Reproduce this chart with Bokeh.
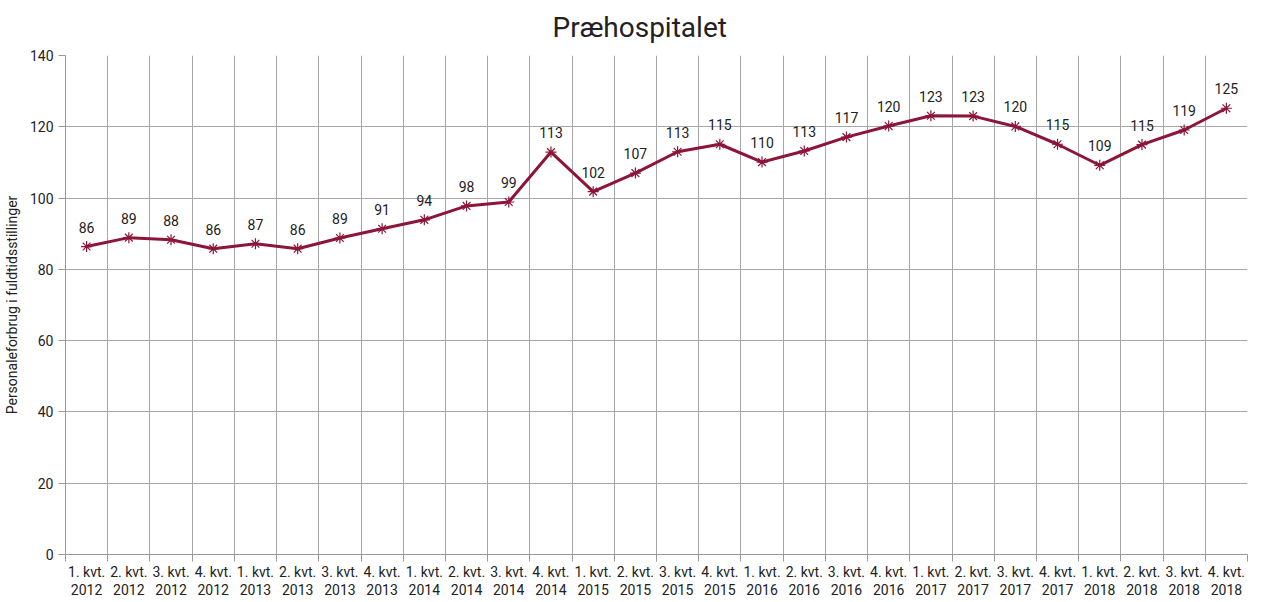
from bokeh.plotting import figure
from bokeh.models import Range1d, FixedTicker, ColumnDataSource, Title
from bokeh.core.properties import value
from bokeh.embed import file_html
from bokeh.resources import INLINE

title = "Præhospitalet"
quarters = ["1. kvt.", "2. kvt.", "3. kvt.", "4. kvt."]
years = ["2012", "2013", "2014", "2015", "2016", "2017", "2018"]
categories = [f"{q}\n{y}" for y in years for q in quarters]
values = [86.4, 88.9, 88.3, 85.8, 87.2, 85.8, 88.8, 91.4, 93.9, 97.8, 98.9, 112.9,
          101.8, 107.0, 113.0, 115.1, 110.1, 113.2, 117.1, 120.2, 123.1, 123.0,
          120.1, 115.1, 109.2, 115.0, 119.1, 125.2]
y_ticks = [0, 20, 40, 60, 80, 100, 120, 140]

FONT = "Roboto"
TXT = "#222222"
LINE = "#8C1538"

n = len(categories)
xs = [i + 0.5 for i in range(n)]
labels = [str(int(round(v))) for v in values]
src = ColumnDataSource(dict(x=xs, y=values, lab=labels))

p = figure(frame_width=1182, frame_height=499, output_backend="svg", toolbar_location=None,
           x_range=Range1d(0, n), y_range=Range1d(0, 140),
           min_border_left=65, min_border_right=2, min_border_top=48, min_border_bottom=10)
p.outline_line_color = None
p.title = Title(text=title, align="left", vertical_align="top", text_font=FONT,
                text_font_size="28px", text_font_style="normal", text_color=TXT,
                offset=487, standoff=20)

p.xaxis.ticker = FixedTicker(ticks=xs, minor_ticks=list(range(n + 1)))
p.xaxis.major_label_overrides = {x: c for x, c in zip(xs, categories)}
p.xaxis.major_tick_out = 0
p.xaxis.major_tick_in = 0
p.xaxis.minor_tick_out = 7
p.xaxis.minor_tick_in = 0
p.xaxis.minor_tick_line_color = "#999999"
p.xaxis.major_label_standoff = 2
p.xaxis.major_label_text_line_height = 1.15
p.xgrid.ticker = FixedTicker(ticks=list(range(n + 1)))

p.yaxis.ticker = FixedTicker(ticks=y_ticks)
p.yaxis.minor_tick_line_color = None
p.yaxis.major_tick_out = 7
p.yaxis.major_tick_in = 0
p.yaxis.major_tick_line_color = "#999999"
p.yaxis.axis_label = "Personaleforbrug i fuldtidsstillinger"
p.yaxis.axis_label_text_font = FONT
p.yaxis.axis_label_text_font_size = "14px"
p.yaxis.axis_label_text_font_style = "normal"
p.yaxis.axis_label_text_color = TXT
p.yaxis.axis_label_standoff = 7

for ax in (p.xaxis, p.yaxis):
    ax.axis_line_color = "#999999"
    ax.major_label_text_font = FONT
    ax.major_label_text_font_size = "14px"
    ax.major_label_text_color = TXT

for g in (p.xgrid, p.ygrid):
    g.grid_line_color = "#a6a6a6"
    g.grid_line_width = 1

p.line("x", "y", source=src, line_color=LINE, line_width=3)
p.scatter("x", "y", source=src, marker="asterisk", size=11, line_color=LINE, line_width=1.2)
p.text("x", "y", text="lab", source=src, text_align="center", text_baseline="bottom",
       y_offset=-14, text_font=value(FONT), text_font_size="14px", text_color=TXT)

open("out.html", "w").write(file_html(p, INLINE))
